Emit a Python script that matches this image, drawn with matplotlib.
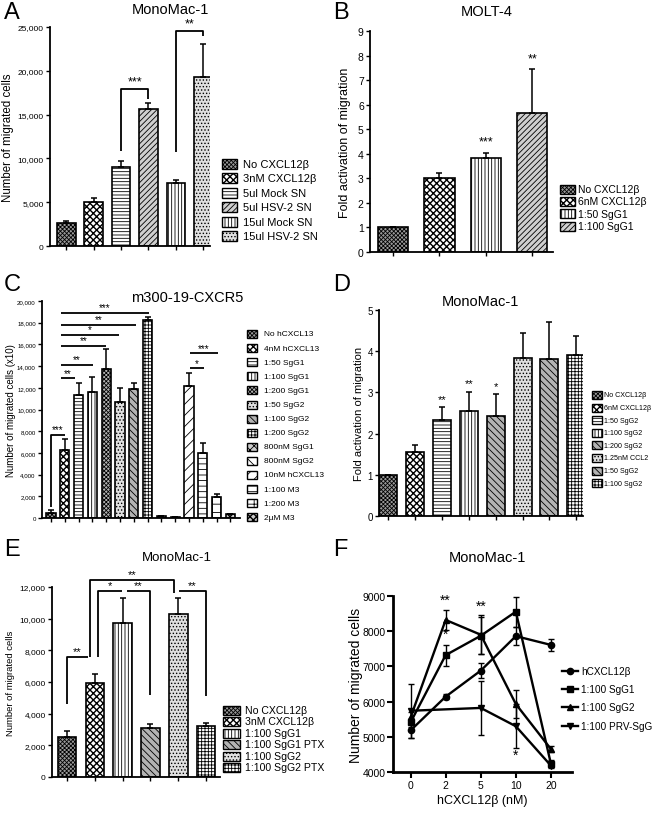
import matplotlib
matplotlib.use("Agg")
import matplotlib.pyplot as plt
from matplotlib.patches import Rectangle
from matplotlib.lines import Line2D
from matplotlib import font_manager
import numpy as np

# ---------------- data ----------------
a_labels = ["No CXCL12β", "3nM CXCL12β", "5ul Mock SN", "5ul HSV-2 SN", "15ul Mock SN", "15ul HSV-2 SN"]
a_values = [2600, 5000, 9050, 15650, 7150, 19300]
a_errors = [300, 450, 600, 650, 350, 3800]

b_labels = ["No CXCL12β", "6nM CXCL12β", "1:50 SgG1", "1:100 SgG1"]
b_values = [1.0, 3.0, 3.82, 5.65]
b_errors = [0.0, 0.22, 0.2, 1.8]

c_labels = ["No hCXCL13", "4nM hCXCL13", "1:50 SgG1", "1:100 SgG1", "1:200 SgG1", "1:50 SgG2",
            "1:100 SgG2", "1:200 SgG2", "800nM SgG1", "800nM SgG2", "10nM hCXCL13", "1:100 M3",
            "1:200 M3", "2µM M3"]
c_values = [460, 6300, 11300, 11650, 13750, 10650, 11880, 18250, 150, 60, 12180, 6000, 1970, 370]
c_errors = [250, 1000, 1180, 1350, 1800, 1300, 600, 250, 50, 0, 1150, 920, 230, 40]

d_labels = ["No CXCL12β", "6nM CXCL12β", "1:50 SgG2", "1:100 SgG2", "1:200 SgG2", "1.25nM CCL2",
            "1:50 SgG2", "1:100 SgG2"]
d_values = [1.0, 1.56, 2.33, 2.56, 2.43, 3.83, 3.82, 3.91]
d_errors = [0.0, 0.16, 0.31, 0.46, 0.53, 0.62, 0.9, 0.45]

e_labels = ["No CXCL12β", "3nM CXCL12β", "1:100 SgG1", "1:100 SgG1 PTX", "1:100 SgG2", "1:100 SgG2 PTX"]
e_values = [2550, 5950, 9700, 3100, 10300, 3250]
e_errors = [380, 580, 1600, 250, 1000, 170]

f_doses = ["0", "2", "5", "10", "20"]
f_series = ["hCXCL12β", "1:100 SgG1", "1:100 SgG2", "1:100 PRV-SgG"]
f_hcxcl12 = [5180, 6140, 6880, 7860, 7610]
f_hcxcl12_err = [200, 80, 220, 260, 165]
f_sgg1 = [5410, 7320, 7870, 8555, 4230]
f_sgg1_err = [120, 300, 530, 430, 100]
f_sgg2 = [5550, 8320, 7900, 5930, 4650]
f_sgg2_err = [150, 280, 550, 400, 80]
f_prv = [5740, None, 5820, 5300, 4180]
f_prv_err = [760, None, 760, 620, 60]

# ---------------- style ----------------
W, H = 653, 820
avail = {f.name for f in font_manager.fontManager.ttflist}
SANS = "Liberation Sans" if "Liberation Sans" in avail else "DejaVu Sans"
plt.rcParams["font.family"] = [SANS, "DejaVu Sans"]
plt.rcParams["hatch.linewidth"] = 0.6

fig = plt.figure(figsize=(W / 100, H / 100), dpi=100)

CHECK = "xxxxx"     # checkerboard-like
GRAYH = "xxxxxxxx"  # dense gray crosshatch


def hatch_lw(h):
    return 1.0 if h == CHECK else 0.6


def fx(x):
    return x / W


def fy(y):
    return 1 - y / H


def make_ax(x0, x1, ytop, ybot):
    return fig.add_axes([fx(x0), fy(ybot), fx(x1 - x0), (ybot - ytop) / H])


def style_ax(ax, lw=1.3, tick_fs=6):
    for s in ["top", "right"]:
        ax.spines[s].set_visible(False)
    for s in ["left", "bottom"]:
        ax.spines[s].set_linewidth(lw)
    ax.tick_params(axis="both", direction="out", length=3, width=1, labelsize=tick_fs, pad=1.5)


def bars(ax, values, errors, hatches, faces, width=0.66):
    x = np.arange(len(values))
    for i, (v, h, fc) in enumerate(zip(values, hatches, faces)):
        with plt.rc_context({"hatch.linewidth": hatch_lw(h)}):
            ax.bar(x[i], v, width=width, color=fc, edgecolor="black", hatch=h, linewidth=1.2, zorder=2)
    ax.errorbar(x, values, yerr=[np.zeros(len(values)), errors], fmt="none", ecolor="black",
                elinewidth=1.1, capsize=2.5, capthick=1.1, zorder=3)
    ax.set_xticks(x)
    ax.set_xticklabels([])


def legend_boxes(x_box, w_box, h_box, y_first, dy, labels, hatches, faces, x_text, fs):
    for i, (lab, h, fc) in enumerate(zip(labels, hatches, faces)):
        yc = y_first + i * dy
        with plt.rc_context({"hatch.linewidth": hatch_lw(h)}):
            fig.add_artist(Rectangle((fx(x_box), fy(yc + h_box / 2)), w_box / W, h_box / H,
                                     transform=fig.transFigure, facecolor=fc, edgecolor="black",
                                     hatch=h, linewidth=1.0))
        fig.text(fx(x_text), fy(yc), lab, fontsize=fs, va="center", ha="left")


def title(xc, yc, s, fs=10.5):
    fig.text(fx(xc), fy(yc), s, fontsize=fs, ha="center", va="center")


def letter(x, y, s):
    fig.text(fx(x), fy(y), s, fontsize=17, ha="left", va="center")


def ylabel(ax, s, x_px, x0, x1, fs):
    ax.set_ylabel(s, fontsize=fs, va="center")
    ax.yaxis.set_label_coords((x_px - x0) / (x1 - x0), 0.5)


def bline(ax, xs, ys, lw=1.3):
    ax.plot(xs, ys, color="black", lw=lw, clip_on=False, zorder=4, solid_capstyle="butt")


def star(ax, x, y, s, fs=8):
    ax.text(x, y, s, ha="center", va="bottom", fontsize=fs, clip_on=False, zorder=5)


GRAY = "#9a9a9a"
MGRAY = "#b3b3b3"
LGRAY = "#e0e0e0"
WHITE = "white"

# ---------------- Panel A ----------------
x0, x1, yt, yb = 50, 210, 28, 247
axA = make_ax(x0, x1, yt, yb)
a_hatch = [GRAYH, CHECK, "-----", "//////", "|||||", "....."]
a_face = [GRAY, WHITE, WHITE, "#cfcfcf", WHITE, LGRAY]
bars(axA, a_values, a_errors, a_hatch, a_face, width=0.68)
axA.set_xlim(-0.6, 5.25)
axA.set_ylim(0, 25000)
axA.set_yticks([0, 5000, 10000, 15000, 20000, 25000])
axA.set_yticklabels(["0", "5,000", "10,000", "15,000", "20,000", "25,000"])
style_ax(axA, tick_fs=6)
ylabel(axA, "Number of migrated cells", 8, x0, x1, 8.3)
bline(axA, [2, 2, 3, 3], [10880, 17940, 17940, 16800])
star(axA, 2.5, 18100, "***", 9)
bline(axA, [4, 4, 5, 5], [10700, 24600, 24600, 24000])
star(axA, 4.5, 24750, "**", 9)
title(170, 10, "MonoMac-1")
letter(4, 13, "A")
legend_boxes(222, 15, 10, 165, 14.4, a_labels, a_hatch, a_face, 243, 8)

# ---------------- Panel B ----------------
x0, x1, yt, yb = 370, 553, 32, 253
axB = make_ax(x0, x1, yt, yb)
b_hatch = [GRAYH, CHECK, "|||||", "//////"]
b_face = [GRAY, WHITE, WHITE, "#cfcfcf"]
bars(axB, b_values, b_errors, b_hatch, b_face, width=0.66)
axB.set_xlim(-0.5, 3.45)
axB.set_ylim(0, 9)
axB.set_yticks(range(0, 10))
style_ax(axB, tick_fs=7.5)
ylabel(axB, "Fold activation of migration", 345, x0, x1, 9)
star(axB, 2, 4.25, "***", 9)
star(axB, 3, 7.65, "**", 9)
title(487, 12, "MOLT-4")
letter(333, 13, "B")
legend_boxes(560, 15, 9, 190, 12.4, b_labels, b_hatch, b_face, 578, 7.5)

# ---------------- Panel C ----------------
x0, x1, yt, yb = 42, 240, 302, 519
axC = make_ax(x0, x1, yt, yb)
c_hatch = [GRAYH, CHECK, "-----", "|||||", GRAYH, ".....", "\\\\\\\\\\", "+++++",
           "xxxx", "\\\\\\", "///", "---", "++", CHECK]
c_face = [GRAY, WHITE, WHITE, WHITE, MGRAY, LGRAY, MGRAY, WHITE,
          "#cccccc", WHITE, WHITE, WHITE, WHITE, "#cccccc"]
bars(axC, c_values, c_errors, c_hatch, c_face, width=0.66)
axC.set_xlim(-0.65, 13.7)
axC.set_ylim(0, 20000)
axC.set_yticks(range(0, 20001, 2000))
axC.set_yticklabels([f"{v:,}" for v in range(0, 20001, 2000)])
style_ax(axC, tick_fs=4.4)
ylabel(axC, "Number of migrated cells (x10)", 11, x0, x1, 7.0)
bline(axC, [0, 0, 1], [1000, 7690, 7690])
star(axC, 0.5, 7750, "***", 7)
c_br_end = [1.74, 3.03, 3.99, 4.96, 6.17, 7.14]
c_br_y = [12860, 14090, 15850, 16860, 17780, 18920]
c_br_s = ["**", "**", "**", "*", "**", "***"]
for xe, yy, s in zip(c_br_end, c_br_y, c_br_s):
    bline(axC, [0.7, xe], [yy, yy])
    star(axC, (0.7 + xe) / 2, yy + 60, s, 7)
bline(axC, [10.05, 11.1], [13780, 13780])
star(axC, 10.57, 13840, "*", 7)
bline(axC, [10.05, 12.1], [15170, 15170])
star(axC, 11.07, 15230, "***", 7)
title(187, 298, "m300-19-CXCR5")
letter(4, 285, "C")
legend_boxes(247, 10, 8, 335, 14.1, c_labels, c_hatch, c_face, 264, 6.0)

# ---------------- Panel D ----------------
x0, x1, yt, yb = 379, 583, 311, 517
axD = make_ax(x0, x1, yt, yb)
d_hatch = [GRAYH, CHECK, "-----", "|||||", "\\\\\\\\\\", ".....", "\\\\\\\\\\", "+++++"]
d_face = [GRAY, WHITE, WHITE, WHITE, MGRAY, LGRAY, MGRAY, WHITE]
bars(axD, d_values, d_errors, d_hatch, d_face, width=0.67)
axD.set_xlim(-0.35, 7.25)
axD.set_ylim(0, 5)
axD.set_yticks(range(0, 6))
style_ax(axD, tick_fs=7)
ylabel(axD, "Fold activation of migration", 359, x0, x1, 8)
star(axD, 2, 2.72, "**", 8)
star(axD, 3, 3.1, "**", 8)
star(axD, 4, 3.03, "*", 8)
title(480, 302, "MonoMac-1")
letter(333, 285, "D")
legend_boxes(592, 10, 8, 396, 12.6, d_labels, d_hatch, d_face, 604, 5.1)

# ---------------- Panel E ----------------
x0, x1, yt, yb = 52, 220, 588, 778
axE = make_ax(x0, x1, yt, yb)
e_hatch = [GRAYH, CHECK, "|||||", "\\\\\\\\\\", ".....", "+++++"]
e_face = [GRAY, WHITE, WHITE, MGRAY, LGRAY, WHITE]
bars(axE, e_values, e_errors, e_hatch, e_face, width=0.67)
axE.set_xlim(-0.54, 5.5)
axE.set_ylim(0, 12000)
axE.set_yticks(range(0, 12001, 2000))
axE.set_yticklabels([f"{v:,}" for v in range(0, 12001, 2000)])
style_ax(axE, tick_fs=6)
ylabel(axE, "Number of migrated cells", 11, x0, x1, 6.8)
bline(axE, [0, 0, 0.74], [4630, 7560, 7560])
star(axE, 0.37, 7650, "**", 8)
bline(axE, [0.82, 0.82, 3.84, 3.84], [7560, 12450, 12450, 11600])
star(axE, 2.33, 12520, "**", 8)
bline(axE, [1.12, 1.12, 1.97], [7560, 11730, 11730])
star(axE, 1.55, 11800, "*", 8)
bline(axE, [2.16, 2.99, 2.99], [11730, 11730, 5170])
star(axE, 2.57, 11800, "**", 8)
bline(axE, [4.04, 4.98, 4.98], [11730, 11730, 5120])
star(axE, 4.5, 11800, "**", 8)
title(177, 558, "MonoMac-1", fs=9.5)
letter(4, 550, "E")
legend_boxes(223, 17, 9, 711, 11.5, e_labels, e_hatch, e_face, 245, 7.6)

# ---------------- Panel F ----------------
x0, x1, yt, yb = 393, 572, 597, 773
axF = make_ax(x0, x1, yt, yb)
xs = np.arange(len(f_doses))
f_markers = ["o", "s", "^", "v"]
f_vals = [f_hcxcl12, f_sgg1, f_sgg2, f_prv]
f_errs = [f_hcxcl12_err, f_sgg1_err, f_sgg2_err, f_prv_err]
for vals, errs, m in zip(f_vals, f_errs, f_markers):
    idx = [i for i, v in enumerate(vals) if v is not None]
    xv = xs[idx]
    yv = np.array([vals[i] for i in idx], dtype=float)
    ev = np.array([errs[i] for i in idx], dtype=float)
    axF.errorbar(xv, yv, yerr=ev, color="black", lw=1.7, marker=m, markersize=4.5,
                 elinewidth=1.0, capsize=2.5, capthick=1.0, clip_on=False, zorder=3)
axF.set_xlim(-0.5, 4.6)
axF.set_ylim(4000, 9000)
axF.set_xticks(xs)
axF.set_xticklabels(f_doses)
axF.set_yticks(range(4000, 9001, 1000))
style_ax(axF, lw=2.0, tick_fs=7.5)
axF.tick_params(width=1.5, length=4)
ylabel(axF, "Number of migrated cells", 356, x0, x1, 10)
axF.set_xlabel("hCXCL12β (nM)", fontsize=9, labelpad=3)
star(axF, 1, 8700, "**", 10)
star(axF, 1, 7720, "*", 10)
star(axF, 2, 8520, "**", 10)
star(axF, 3, 4280, "*", 10)
title(487, 558, "MonoMac-1")
letter(333, 550, "F")
f_leg_y = [672, 690, 708, 727]
for yy, lab, m in zip(f_leg_y, f_series, f_markers):
    fig.add_artist(Line2D([fx(562), fx(578)], [fy(yy), fy(yy)], transform=fig.transFigure,
                          color="black", lw=1.7))
    fig.add_artist(Line2D([fx(570)], [fy(yy)], transform=fig.transFigure, color="black",
                          marker=m, markersize=4.5))
    fig.text(fx(581), fy(yy), lab, fontsize=7.2, va="center", ha="left")

fig.savefig("out.png", dpi=100)
